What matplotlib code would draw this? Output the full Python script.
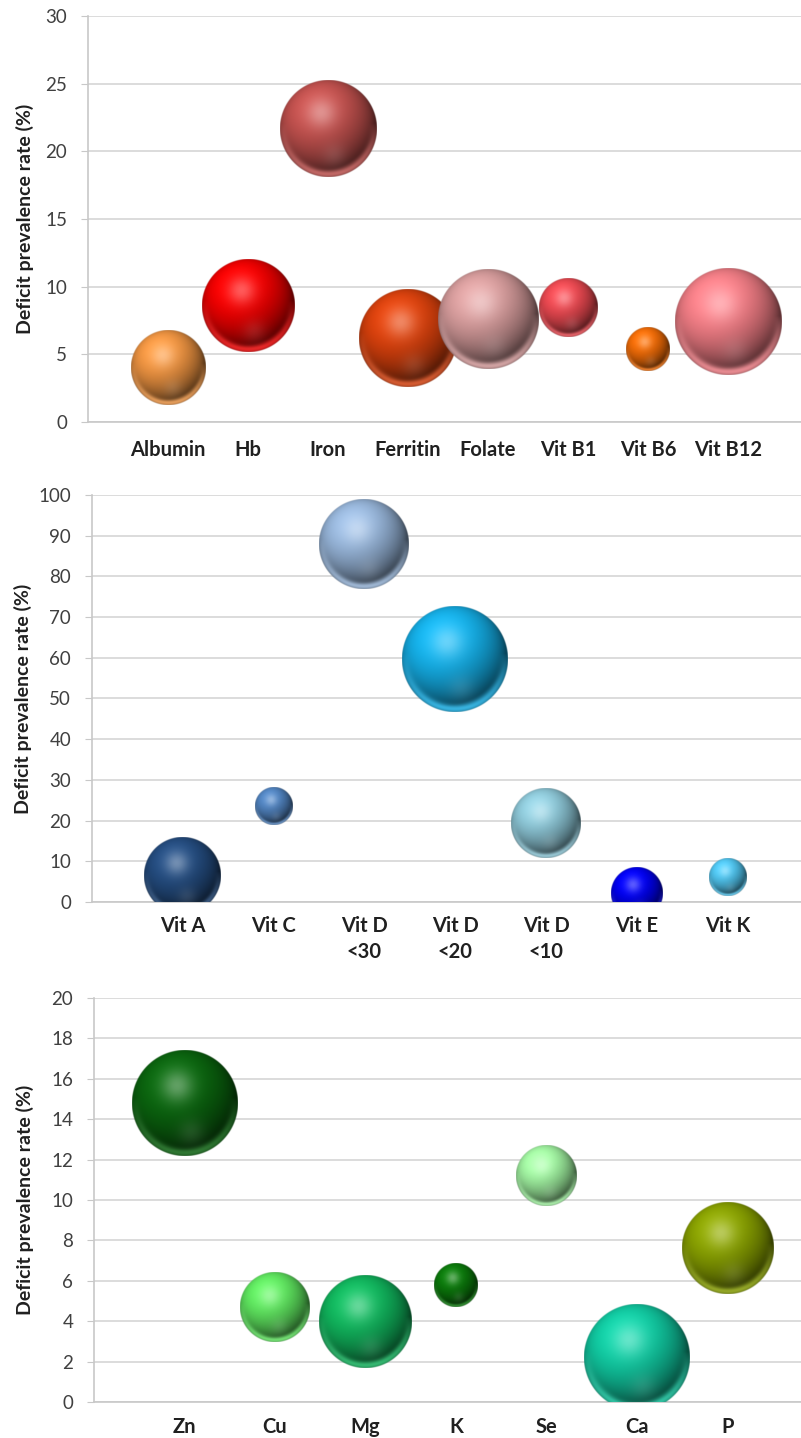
import numpy as np
import matplotlib
matplotlib.use('Agg')
import matplotlib.pyplot as plt
from matplotlib.colors import to_rgb

plt.rcParams['font.family'] = ['Lato', 'DejaVu Sans']

# haematology / B vitamins
blood_names = ['Albumin', 'Hb', 'Iron', 'Ferritin', 'Folate', 'Vit B1', 'Vit B6', 'Vit B12']
blood_rate = [4.0, 8.6, 21.7, 6.2, 7.6, 8.4, 5.4, 7.4]
blood_size = [55, 86, 94, 96, 100, 34, 19, 114]

# other vitamins
vit_names = ['Vit A', 'Vit C', 'Vit D\n<30', 'Vit D\n<20', 'Vit D\n<10', 'Vit E', 'Vit K']
vit_rate = [6.5, 23.5, 87.9, 59.8, 19.3, 2.2, 6.1]
vit_size = [59, 14, 81, 112, 48, 27, 14]

# minerals
min_names = ['Zn', 'Cu', 'Mg', 'K', 'Se', 'Ca', 'P']
min_rate = [14.8, 4.7, 4.0, 5.8, 11.2, 2.2, 7.6]
min_size = [112, 48, 86, 19, 37, 112, 83]

blood_colors = ['#EC9240', '#F00000', '#C0504D', '#D8400C', '#D49A9A', '#E8474F', '#EE6A06', '#F07C84']
vit_colors = ['#234B7E', '#4F81BD', '#95B3D7', '#14AEE6', '#8CC6D6', '#0000F0', '#4EC2EC']
min_colors = ['#0A640E', '#5EE45E', '#10B45C', '#0A780A', '#A0F2A0', '#10C8A0', '#88A000']

W, H = 801, 1438
fig = plt.figure(figsize=(W / 100, H / 100), dpi=100)


def sphere(color, d):
    # shaded ball image, d = diameter in pixels
    ss = 3
    n = max(int(d * ss), 8)
    t = (np.arange(n) + 0.5) / n * 2 - 1
    u, v = np.meshgrid(t, t)
    r2 = u * u + v * v
    r = np.sqrt(r2)
    z = np.sqrt(np.clip(1 - r2, 0, 1))
    L = np.array([-0.3, 0.5, 0.81])
    L = L / np.linalg.norm(L)
    diff = np.clip(u * L[0] + v * L[1] + z * L[2], 0, 1)
    base = np.array(to_rgb(color))
    rgb = base[None, None, :] * (0.4 + 0.7 * diff)[..., None]
    hl = np.exp(-((u + 0.15) ** 2 + (v - 0.33) ** 2) / 0.09)
    rgb = rgb + (1 - rgb) * hl[..., None] * 0.35
    rim = np.exp(-((r - 0.94) ** 2) / 0.006) * np.clip(-v + 0.1, 0, 1) ** 0.8
    rgb = rgb + (base - rgb).clip(0) * rim[..., None] * 0.9
    rgb = rgb + (1 - rgb) * rim[..., None] * 0.15
    glow = np.exp(-((u - 0.12) ** 2 + (v + 0.55) ** 2) / 0.06)
    rgb = rgb + (1 - rgb) * glow[..., None] * 0.1
    alpha = np.clip((1 - r) * d / 2 + 0.5, 0, 1)
    img = np.dstack([np.clip(rgb, 0, 1), alpha])
    return img


def panel(top, bottom, left, step, ymax, ystep, names, rate, size, colors, label_x, pad):
    right = W * 1.03
    ax = fig.add_axes([left / W, 1 - bottom / H, (right - left) / W, (bottom - top) / H])
    xmax = (right - left) / step
    ax.set_xlim(0, xmax)
    ax.set_ylim(0, ymax)
    ax.set_yticks(np.arange(0, ymax + 0.01, ystep))
    ax.yaxis.grid(True, color='#D9D9D9', lw=1.3)
    ax.set_axisbelow(True)
    for s in ['top', 'right']:
        ax.spines[s].set_visible(False)
    for s in ['left', 'bottom']:
        ax.spines[s].set_color('#C8C8C8')
        ax.spines[s].set_linewidth(1.2)
    ax.tick_params(axis='y', length=5, color='#C8C8C8', labelsize=13.5, labelcolor='#404040', pad=10)
    ax.tick_params(axis='x', length=0, pad=pad)
    pos = np.arange(1, len(names) + 1)
    ax.set_xticks(pos)
    ax.set_xticklabels(names, fontsize=14.5, fontweight='bold', color='#202020', linespacing=1.4)
    ax.set_ylabel('Deficit prevalence rate (%)', fontsize=14, fontweight='bold', color='#202020')
    ax.yaxis.label.set_va('center')
    wpx = ax.get_position().width * W
    ax.yaxis.set_label_coords((label_x - left) / wpx, 0.5)

    fig.canvas.draw()
    inv = ax.transData.inverted()
    for x, y, s, c in zip(pos, rate, size, colors):
        d = 10 * np.sqrt(s)
        px, py = ax.transData.transform((x, y))
        (x0, y0), (x1, y1) = inv.transform([(px - d / 2, py - d / 2), (px + d / 2, py + d / 2)])
        ax.imshow(sphere(c, d), extent=(x0, x1, y0, y1), origin='lower', aspect='auto',
                  interpolation='bilinear', zorder=3)
    ax.set_xlim(0, xmax)
    ax.set_ylim(0, ymax)
    return ax


panel(16, 422, 88, 80.0, 30, 5, blood_names, blood_rate, blood_size, blood_colors, 25, 13)
panel(495, 902, 92, 90.8, 100, 10, vit_names, vit_rate, vit_size, vit_colors, 23, 10)
panel(998, 1402, 94, 90.5, 20, 2, min_names, min_rate, min_size, min_colors, 25, 11)

fig.savefig('out.png', dpi=100)
